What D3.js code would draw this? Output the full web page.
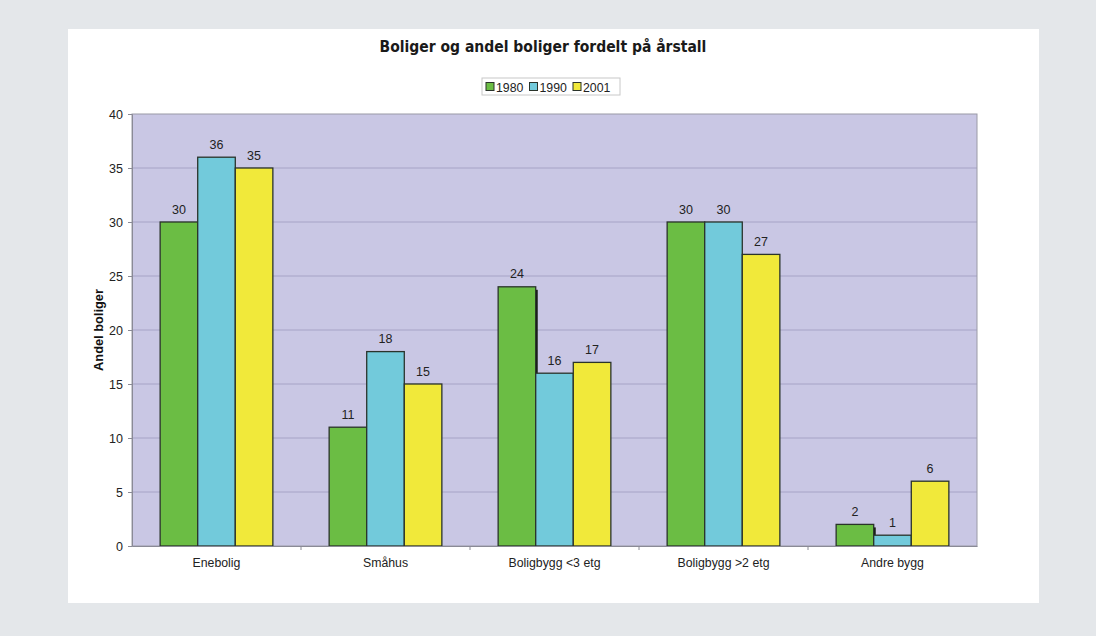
<!DOCTYPE html>
<html><head><meta charset="utf-8">
<script src="https://cdn.jsdelivr.net/npm/d3@7"></script>
<style>body{margin:0;background:#e4e7ea;}svg{display:block;}</style>
</head><body>
<script>
const categories = ["Enebolig","Småhus","Boligbygg <3 etg","Boligbygg >2 etg","Andre bygg"];
const seriesNames = ["1980","1990","2001"];
const values1980 = [30, 11, 24, 30, 2];
const values1990 = [36, 18, 16, 30, 1];
const values2001 = [35, 15, 17, 27, 6];
const yTicks = [0,5,10,15,20,25,30,35,40];
const colors = ["#6bbd44","#72cadb","#f1e93a"];
const title = "Boliger og andel boliger fordelt på årstall";
const yTitle = "Andel boliger";

const series = [values1980, values1990, values2001];
const W = 1096, H = 636;
const FONT = "Liberation Sans, Arial, sans-serif";
const svg = d3.select("body").append("svg").attr("width", W).attr("height", H);
svg.append("rect").attr("width", W).attr("height", H).attr("fill", "#e4e7ea");
svg.append("rect").attr("x", 68).attr("y", 29).attr("width", 971).attr("height", 574).attr("fill", "#ffffff");

const plot = {l:132, r:977, t:114, b:546};
const x = d3.scaleBand().domain(categories).range([plot.l, plot.r]).paddingInner(0).paddingOuter(0);
const y = d3.scaleLinear().domain([0,40]).range([plot.b, plot.t]);
const groupW = x.bandwidth() * 0.667;
const xs = d3.scaleBand().domain(seriesNames).range([0, groupW]).padding(0);

svg.append("rect").attr("x", plot.l).attr("y", plot.t).attr("width", plot.r-plot.l).attr("height", plot.b-plot.t)
  .attr("fill", "#c9c7e4");
svg.append("g").selectAll("line").data(yTicks.filter(d=>d>0 && d<40)).join("line")
  .attr("x1", plot.l).attr("x2", plot.r).attr("y1", d=>y(d)).attr("y2", d=>y(d))
  .attr("stroke", "#a6a3c6").attr("stroke-width", 1);
svg.append("rect").attr("x", plot.l).attr("y", plot.t).attr("width", plot.r-plot.l).attr("height", plot.b-plot.t)
  .attr("fill", "none").attr("stroke", "#9a9aa6").attr("stroke-width", 1);

// bars
const bars = [];
categories.forEach((c,i)=>{
  seriesNames.forEach((s,j)=>{
    bars.push({c, s, j, v: series[j][i]});
  });
});
const gx = c => x(c) + (x.bandwidth()-groupW)/2;
const gBars = svg.append("g");
gBars.selectAll("rect.shadow").data(bars.filter(d=>d.j===0)).join("rect").attr("class","shadow")
  .attr("x", d=>gx(d.c)+xs(d.s)+2).attr("y", d=>y(d.v)+3)
  .attr("width", xs.bandwidth()).attr("height", d=>plot.b-y(d.v)-3)
  .attr("fill", "#111611");
gBars.selectAll("rect.bar").data(bars).join("rect").attr("class","bar")
  .attr("x", d=>gx(d.c)+xs(d.s)).attr("y", d=>y(d.v))
  .attr("width", xs.bandwidth()).attr("height", d=>plot.b-y(d.v))
  .attr("fill", d=>colors[d.j]).attr("stroke", "#2a332a").attr("stroke-width", 1.3);
gBars.selectAll("text").data(bars).join("text")
  .attr("x", d=>gx(d.c)+xs(d.s)+xs.bandwidth()/2).attr("y", d=>y(d.v)-8.5)
  .attr("text-anchor","middle").attr("font-family",FONT)
  .attr("font-size", 12.5).attr("fill","#222").text(d=>d.v);

// axes
const yAxis = d3.axisLeft(y).tickValues(yTicks).tickSize(4).tickPadding(5);
const ga = svg.append("g").attr("transform", `translate(${plot.l},0)`).call(yAxis);
ga.select(".domain").attr("stroke","#8a8a96");
ga.selectAll(".tick line").attr("stroke","#8a8a96");
ga.selectAll("text").attr("font-family",FONT).attr("font-size", 12.5).attr("fill","#222");

const xAxis = d3.axisBottom(x).tickSize(0).tickPadding(12);
const gb = svg.append("g").attr("transform", `translate(0,${plot.b})`).call(xAxis);
gb.select(".domain").attr("stroke","#8a8a96");
gb.selectAll("text").attr("font-family",FONT).attr("font-size", 12.3).attr("fill","#222");
svg.append("g").selectAll("line").data(categories.slice(1)).join("line")
  .attr("x1", d=>x(d)).attr("x2", d=>x(d)).attr("y1", plot.b).attr("y2", plot.b+4).attr("stroke","#8a8a96");

// y title
svg.append("text").attr("transform", `translate(103,${(plot.t+plot.b)/2}) rotate(-90)`)
  .attr("text-anchor","middle").attr("font-family",FONT)
  .attr("font-weight","bold").attr("font-size", 12.8).attr("fill","#111").text(yTitle);

// title
svg.append("text").attr("x", 543).attr("y", 52).attr("text-anchor","middle")
  .attr("font-family","DejaVu Sans Condensed, DejaVu Sans, sans-serif").attr("font-weight","bold")
  .attr("font-size", 15.5).attr("fill","#1a1a1a").text(title);

// legend
const lg = svg.append("g");
lg.append("rect").attr("x", 482).attr("y", 78).attr("width", 138).attr("height", 17)
  .attr("fill","#fff").attr("stroke","#c8c8c8");
const legX = [486, 529.5, 573];
seriesNames.forEach((s,j)=>{
  lg.append("rect").attr("x", legX[j]).attr("y", 82.5).attr("width", 8).attr("height", 8)
    .attr("fill", colors[j]).attr("stroke","#2a332a").attr("stroke-width",1);
  lg.append("text").attr("x", legX[j]+10).attr("y", 91.5).attr("font-family",FONT)
    .attr("font-size", 12.3).attr("fill","#222").text(s);
});
</script>
</body></html>
